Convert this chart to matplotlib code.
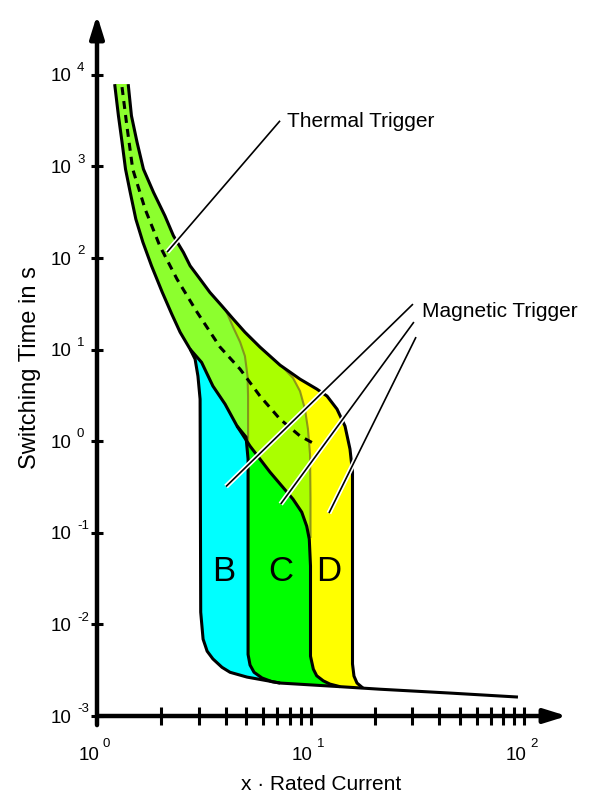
import matplotlib.pyplot as plt
import matplotlib.patheffects as pe
from matplotlib.ticker import NullLocator

plt.rcParams['font.family'] = ['Liberation Sans', 'DejaVu Sans']

# x = multiple of rated current, t = switching time in s
# thermal release band: lower limit, upper limit, middle (dashed)
thermal_lo_x = [1.21, 1.26, 1.31, 1.36, 1.43, 1.52, 1.64, 1.80, 2.02, 2.24, 2.45, 2.73,
                3.09, 3.49, 3.98, 4.53, 5.21, 6.46, 8.28]
thermal_lo_t = [7900, 3570, 1840, 934, 524, 266, 149, 82.2, 42.4, 24.4, 15.5, 10.1,
                7.25, 4.0, 2.54, 1.46, 0.884, 0.46, 0.233]
thermal_hi_x = [1.40, 1.45, 1.54, 1.65, 1.84, 2.08, 2.28, 2.54, 2.73, 3.04, 3.38, 3.84,
                4.35, 4.93, 5.80, 7.20, 8.93, 10.7]
thermal_hi_t = [7900, 3570, 1840, 934, 520, 289, 175, 115, 82.2, 58.8, 42.1, 30.1,
                21.5, 15.5, 10.65, 6.77, 4.76, 3.71]
thermal_mid_x = [1.31, 1.38, 1.47, 1.68, 1.97, 2.37, 2.94, 3.77, 4.68, 5.80, 7.20, 8.93, 10.7]
thermal_mid_t = [7340, 2775, 934, 342, 135, 58.8, 25.7, 10.65, 6.12, 3.11, 1.74, 1.14, 0.906]

# magnetic release: drop of the lower limit at 3x (B), 5x (C), 10x (D)
b_lo_x = [2.88, 2.97, 3.04, 3.06, 3.14, 3.28, 3.49, 3.85, 4.20, 5.04]
b_lo_t = [7.88, 5.14, 2.88, 0.0136, 0.0069, 0.0051, 0.0042, 0.0034, 0.0030, 0.00266]
c_lo_x = [4.99, 5.1, 5.1, 5.21, 5.44, 5.93, 6.60, 7.20]
c_lo_t = [1.11, 0.637, 0.0047, 0.0036, 0.0030, 0.0026, 0.00237, 0.00229]
d_lo_x = [9.10, 9.60, 9.87, 10.0, 10.0, 10.31, 10.69, 11.48, 12.34, 13.75]
d_lo_t = [0.168, 0.118, 0.0853, 0.0433, 0.0045, 0.00325, 0.00275, 0.00242, 0.00223, 0.00209]
# drop of the upper limit at 5x (B), 10x (C), ~16x (D)
b_hi_x = [4.02, 4.34, 4.68, 4.93, 5.07, 5.1, 5.1]
b_hi_t = [26.6, 17.6, 12.1, 8.49, 5.14, 3.11, 0.93]
c_hi_x = [7.43, 8.28, 8.93, 9.42, 9.73, 9.95, 10.0, 10.0]
c_hi_t = [6.4, 4.9, 3.52, 2.24, 1.36, 0.72, 0.233, 0.09]
d_hi_x = [11.95, 13.31, 14.51, 15.31, 15.73, 15.73, 15.98, 16.51, 17.6]
d_hi_t = [3.11, 2.24, 1.46, 0.82, 0.46, 0.0037, 0.00273, 0.00229, 0.00202]
floor_x = [5.04, 7.20, 13.75, 21.2, 45.0, 93.7]
floor_t = [0.00266, 0.00229, 0.00209, 0.00196, 0.00178, 0.00161]

curve_names = ['B', 'C', 'D']
name_x = [3.91, 7.24, 12.14]
name_t = 0.0297

x_ticks = [2, 3, 4, 5, 6, 7, 8, 9, 10, 20, 30, 40, 50, 60, 70, 80, 90, 100]
y_exps = [-3, -2, -1, 0, 1, 2, 3, 4]
x_exps = [0, 1, 2]

# leader lines (from label to curve)
thermal_lead = [(7.20, 3150), (2.13, 116)]
magnetic_lead = [[(30.2, 31.4), (4.02, 0.32)],
                 [(30.5, 20.0), (7.25, 0.206)],
                 [(31.2, 13.7), (12.2, 0.164)]]

# where the curves leave the thermal limits
ib = thermal_lo_x.index(2.73) + 1    # B lower drop
ic = thermal_lo_x.index(4.53) + 1    # C lower drop
jb = thermal_hi_x.index(3.84) + 1    # B upper drop
jc = thermal_hi_x.index(7.20) + 1    # C upper drop

W, H = 600, 806
fig = plt.figure(figsize=(W / 100, H / 100), dpi=100)
ax = fig.add_axes([97 / W, (H - 716) / H, (567 - 97) / W, (716 - 15) / H])
ax.set_xscale('log')
ax.set_yscale('log')
ax.set_xlim(1, 10 ** (470 / 213.5))
ax.set_ylim(1e-3, 10 ** (701 / 91.6 - 3))
for s in ax.spines.values():
    s.set_visible(False)

# filled regions
ax.fill(thermal_hi_x + d_hi_x + d_lo_x[::-1] + thermal_lo_x[::-1],
        thermal_hi_t + d_hi_t + d_lo_t[::-1] + thermal_lo_t[::-1],
        color='#ffff00', lw=0, zorder=1)
ax.fill([c_lo_x[0]] + thermal_lo_x[ic:] + d_lo_x + c_lo_x[::-1],
        [c_lo_t[0]] + thermal_lo_t[ic:] + d_lo_t + c_lo_t[::-1],
        color='#00ff00', lw=0, zorder=1)
ax.fill([thermal_lo_x[ib - 1]] + b_lo_x + c_lo_x[::-1] + thermal_lo_x[ib:ic][::-1],
        [thermal_lo_t[ib - 1]] + b_lo_t + c_lo_t[::-1] + thermal_lo_t[ib:ic][::-1],
        color='#00ffff', lw=0, zorder=1)
ax.fill(thermal_hi_x[:jc] + c_hi_x + d_lo_x[:3][::-1] + thermal_lo_x[::-1],
        thermal_hi_t[:jc] + c_hi_t + d_lo_t[:3][::-1] + thermal_lo_t[::-1],
        color='#aaff00', lw=0, zorder=2)
ax.fill(thermal_hi_x[:jb] + b_hi_x + thermal_lo_x[:ic][::-1],
        thermal_hi_t[:jb] + b_hi_t + thermal_lo_t[:ic][::-1],
        color='#8cff2e', lw=0, zorder=2)

# faint upper-limit drops inside the band
ax.plot(b_hi_x, b_hi_t, color='#7d7d1e', lw=1.5, alpha=0.8, zorder=3)
ax.plot(c_hi_x, c_hi_t, color='#7d7d1e', lw=1.5, alpha=0.8, zorder=3)

# black outlines
kw = dict(color='black', lw=2.2, solid_joinstyle='round', solid_capstyle='butt', zorder=4)
ax.plot(thermal_lo_x[:ib] + b_lo_x + floor_x[1:], thermal_lo_t[:ib] + b_lo_t + floor_t[1:], **kw)
ax.plot(thermal_lo_x[ib - 1:ic] + c_lo_x, thermal_lo_t[ib - 1:ic] + c_lo_t, **kw)
ax.plot(thermal_lo_x[ic - 1:] + d_lo_x, thermal_lo_t[ic - 1:] + d_lo_t, **kw)
ax.plot(thermal_hi_x + d_hi_x, thermal_hi_t + d_hi_t, **kw)
ax.plot(thermal_mid_x, thermal_mid_t, color='black', lw=2.2, dashes=(2.6, 2.0), zorder=4)

# leader lines
halo = [pe.withStroke(linewidth=3.6, foreground='white')]
for (x0, t0), (x1, t1) in [thermal_lead] + magnetic_lead:
    ax.plot([x0, x1], [t0, t1], color='black', lw=1.2, zorder=5,
            path_effects=halo, solid_capstyle='butt')

for name, nx in zip(curve_names, name_x):
    ax.text(nx, name_t, name, ha='center', va='baseline', fontsize=25, zorder=6)

# axes with arrows
arrow = dict(arrowstyle='-|>,head_length=0.9,head_width=0.28', mutation_scale=15,
             lw=3.2, color='black', shrinkA=0, shrinkB=0)
ax.annotate('', xy=(1, 0), xycoords='axes fraction', xytext=(0, 0),
            arrowprops=arrow, annotation_clip=False)
ax.annotate('', xy=(0, 1), xycoords='axes fraction', xytext=(0, -0.013),
            arrowprops=arrow, annotation_clip=False)

ax.set_xticks(x_ticks)
ax.set_xticklabels([])
ax.xaxis.set_minor_locator(NullLocator())
ax.set_yticks([10.0 ** k for k in y_exps])
ax.set_yticklabels([])
ax.yaxis.set_minor_locator(NullLocator())
ax.tick_params(axis='x', direction='inout', length=13, width=2.2)
ax.tick_params(axis='y', direction='inout', length=8.6, width=2.2)

for k in x_exps:
    ax.annotate('10', xy=(10.0 ** k, 0), xycoords=('data', 'axes fraction'),
                xytext=(-5.8, -31.7), textcoords='offset points',
                ha='center', va='baseline', fontsize=13.5, annotation_clip=False)
    ax.annotate(str(k), xy=(10.0 ** k, 0), xycoords=('data', 'axes fraction'),
                xytext=(4.3, -22.3), textcoords='offset points',
                ha='left', va='baseline', fontsize=9.5, annotation_clip=False)
for k in y_exps:
    ax.annotate('10', xy=(0, 10.0 ** k), xycoords=('axes fraction', 'data'),
                xytext=(-18, -4.7), textcoords='offset points',
                ha='right', va='baseline', fontsize=13.5, annotation_clip=False)
    ax.annotate(str(k), xy=(0, 10.0 ** k), xycoords=('axes fraction', 'data'),
                xytext=(-14.4, 2.7), textcoords='offset points',
                ha='left', va='baseline', fontsize=9.5, annotation_clip=False)

fig.text(30 / W, 1 - 368 / H, 'Switching Time in s', rotation=90,
         ha='center', va='center', fontsize=17)
fig.text(321 / W, 1 - 790 / H, 'x · Rated Current', ha='center', va='baseline', fontsize=15)
fig.text(287 / W, 1 - 127.3 / H, 'Thermal Trigger', ha='left', va='baseline', fontsize=15)
fig.text(421.7 / W, 1 - 317 / H, 'Magnetic Trigger', ha='left', va='baseline', fontsize=15)

fig.savefig('out.png', dpi=100)
